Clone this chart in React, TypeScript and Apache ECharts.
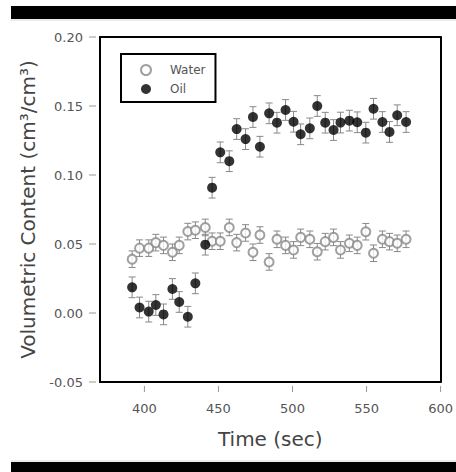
import React, { useEffect, useRef } from "react";
import * as echarts from "echarts";

const times = [391.7, 396.7, 402.9, 407.7, 412.9, 418.9, 423.5, 429.3, 434.4, 441.1, 445.7, 451.2, 457.3, 462.3, 468.3, 473.3, 478.0, 484.2, 489.5, 495.3, 500.7, 505.5, 511.7, 516.7, 522.1, 527.7, 532.4, 538.4, 543.7, 549.5, 554.7, 560.7, 565.5, 570.7, 576.7];
const oil = [0.0186, 0.004, 0.001, 0.0058, -0.001, 0.0174, 0.008, -0.0027, 0.0215, 0.0495, 0.0908, 0.1164, 0.110, 0.1333, 0.126, 0.142, 0.1205, 0.1447, 0.1379, 0.1471, 0.1386, 0.1295, 0.1338, 0.150, 0.1379, 0.1326, 0.138, 0.1394, 0.1382, 0.1307, 0.148, 0.1384, 0.1312, 0.1433, 0.1384];
const water = [0.039, 0.047, 0.047, 0.051, 0.049, 0.044, 0.049, 0.059, 0.060, 0.062, 0.052, 0.052, 0.062, 0.051, 0.058, 0.044, 0.0565, 0.037, 0.0534, 0.049, 0.0457, 0.0548, 0.0534, 0.0444, 0.0517, 0.0548, 0.0457, 0.0505, 0.049, 0.0589, 0.0433, 0.0534, 0.0517, 0.0505, 0.0534];
const oilErr = times.map(() => 0.0075);
const waterErr = times.map(() => 0.006);
const xTicks = [400, 450, 500, 550, 600];
const yTicks = [-0.05, 0, 0.05, 0.1, 0.15, 0.2];

const FONT = "DejaVu Sans";
const X_MIN = 370;
const X_MAX = 600;
const Y_MIN = -0.05;
const Y_MAX = 0.2;

function errorSeries(name: string, vals: number[], errs: number[]) {
  return {
    type: "custom",
    name,
    data: times.map((t, i) => [t, vals[i], errs[i]]),
    renderItem: (params: any, api: any) => {
      const x = api.value(0);
      const y = api.value(1);
      const e = api.value(2);
      const top = api.coord([x, y + e]);
      const bot = api.coord([x, y - e]);
      const cw = 3.5;
      const st = { stroke: "#888", lineWidth: 1 };
      return {
        type: "group",
        children: [
          { type: "line", shape: { x1: top[0], y1: top[1], x2: bot[0], y2: bot[1] }, style: st },
          { type: "line", shape: { x1: top[0] - cw, y1: top[1], x2: top[0] + cw, y2: top[1] }, style: st },
          { type: "line", shape: { x1: bot[0] - cw, y1: bot[1], x2: bot[0] + cw, y2: bot[1] }, style: st },
        ],
      };
    },
    silent: true,
  };
}

// tick marks placed through the axes' own scales (0 = x tick, 1 = y tick)
const tickSeries = {
  type: "custom",
  name: "ticks",
  silent: true,
  clip: false,
  data: [
    ...xTicks.map((v) => [v, Y_MIN, 0]),
    ...yTicks.map((v) => [X_MIN, v, 1]),
  ],
  renderItem: (params: any, api: any) => {
    const p = api.coord([api.value(0), api.value(1)]);
    const kind = api.value(2);
    const st = { stroke: "#999", lineWidth: 1 };
    if (kind === 0) {
      return { type: "line", shape: { x1: p[0], y1: p[1] + 4, x2: p[0], y2: p[1] + 10 }, style: st };
    }
    return { type: "line", shape: { x1: p[0] - 4, y1: p[1], x2: p[0] - 11, y2: p[1] }, style: st };
  },
};

const frameLine = { show: true, onZero: false, lineStyle: { color: "#000", width: 2 } };

export default function App() {
  const ref = useRef<HTMLDivElement>(null);
  useEffect(() => {
    if (!ref.current) return;
    const chart = echarts.init(ref.current, null, { renderer: "svg" });
    chart.setOption({
      animation: false,
      backgroundColor: "#fff",
      grid: { left: 100, top: 37, right: 11, bottom: 90 },
      xAxis: [
        {
          type: "value",
          min: X_MIN,
          max: X_MAX,
          position: "bottom",
          axisLine: frameLine,
          axisTick: { show: false },
          axisLabel: { customValues: xTicks, margin: 20, fontFamily: FONT, fontSize: 13, color: "#555" },
          splitLine: { show: false },
          name: "Time (sec)",
          nameLocation: "middle",
          nameGap: 47,
          nameTextStyle: { fontFamily: FONT, fontSize: 20, color: "#444" },
        },
        {
          type: "value",
          min: X_MIN,
          max: X_MAX,
          position: "top",
          axisLine: frameLine,
          axisTick: { show: false },
          axisLabel: { show: false },
          splitLine: { show: false },
        },
      ],
      yAxis: [
        {
          type: "value",
          min: Y_MIN,
          max: Y_MAX,
          interval: 0.05,
          position: "left",
          axisLine: frameLine,
          axisTick: { show: false },
          axisLabel: { margin: 17, fontFamily: FONT, fontSize: 13, color: "#555", formatter: (v: number) => v.toFixed(2) },
          splitLine: { show: false },
          name: "Volumetric Content (cm³/cm³)",
          nameLocation: "middle",
          nameGap: 61,
          nameTextStyle: { fontFamily: FONT, fontSize: 20, color: "#444" },
        },
        {
          type: "value",
          min: Y_MIN,
          max: Y_MAX,
          interval: 0.05,
          position: "right",
          axisLine: frameLine,
          axisTick: { show: false },
          axisLabel: { show: false },
          splitLine: { show: false },
        },
      ],
      legend: {
        left: 121,
        top: 54,
        orient: "vertical",
        itemWidth: 10,
        itemHeight: 10,
        itemGap: 7,
        borderColor: "#000",
        borderWidth: 2,
        padding: [10, 10, 7, 19],
        textStyle: { fontFamily: FONT, fontSize: 12, color: "#555", lineHeight: 12, padding: [0, 0, 0, 14] },
        data: [
          { name: "Water", icon: "emptyCircle" },
          { name: "Oil", icon: "circle" },
        ],
      },
      graphic: [
        { type: "rect", shape: { x: 11, y: 6, width: 445, height: 13 }, style: { fill: "#000" } },
        { type: "rect", shape: { x: 11, y: 19.5, width: 445, height: 1 }, style: { fill: "#d8d8d8" } },
        { type: "rect", shape: { x: 11, y: 462, width: 445, height: 10 }, style: { fill: "#000" } },
        { type: "rect", shape: { x: 11, y: 460.5, width: 445, height: 1 }, style: { fill: "#d8d8d8" } },
      ],
      series: [
        tickSeries,
        errorSeries("Water err", water, waterErr),
        {
          type: "scatter",
          name: "Water",
          data: times.map((t, i) => [t, water[i]]),
          symbol: "emptyCircle",
          symbolSize: 9,
          itemStyle: { color: "#888", borderColor: "#888", borderWidth: 1 },
        },
        errorSeries("Oil err", oil, oilErr),
        {
          type: "scatter",
          name: "Oil",
          data: times.map((t, i) => [t, oil[i]]),
          symbol: "circle",
          symbolSize: 10,
          itemStyle: { color: "#000" },
        },
      ],
    });
    return () => chart.dispose();
  }, []);
  return <div ref={ref} style={{ position: "fixed", left: 0, top: 0, width: 456, height: 472 }} />;
}
